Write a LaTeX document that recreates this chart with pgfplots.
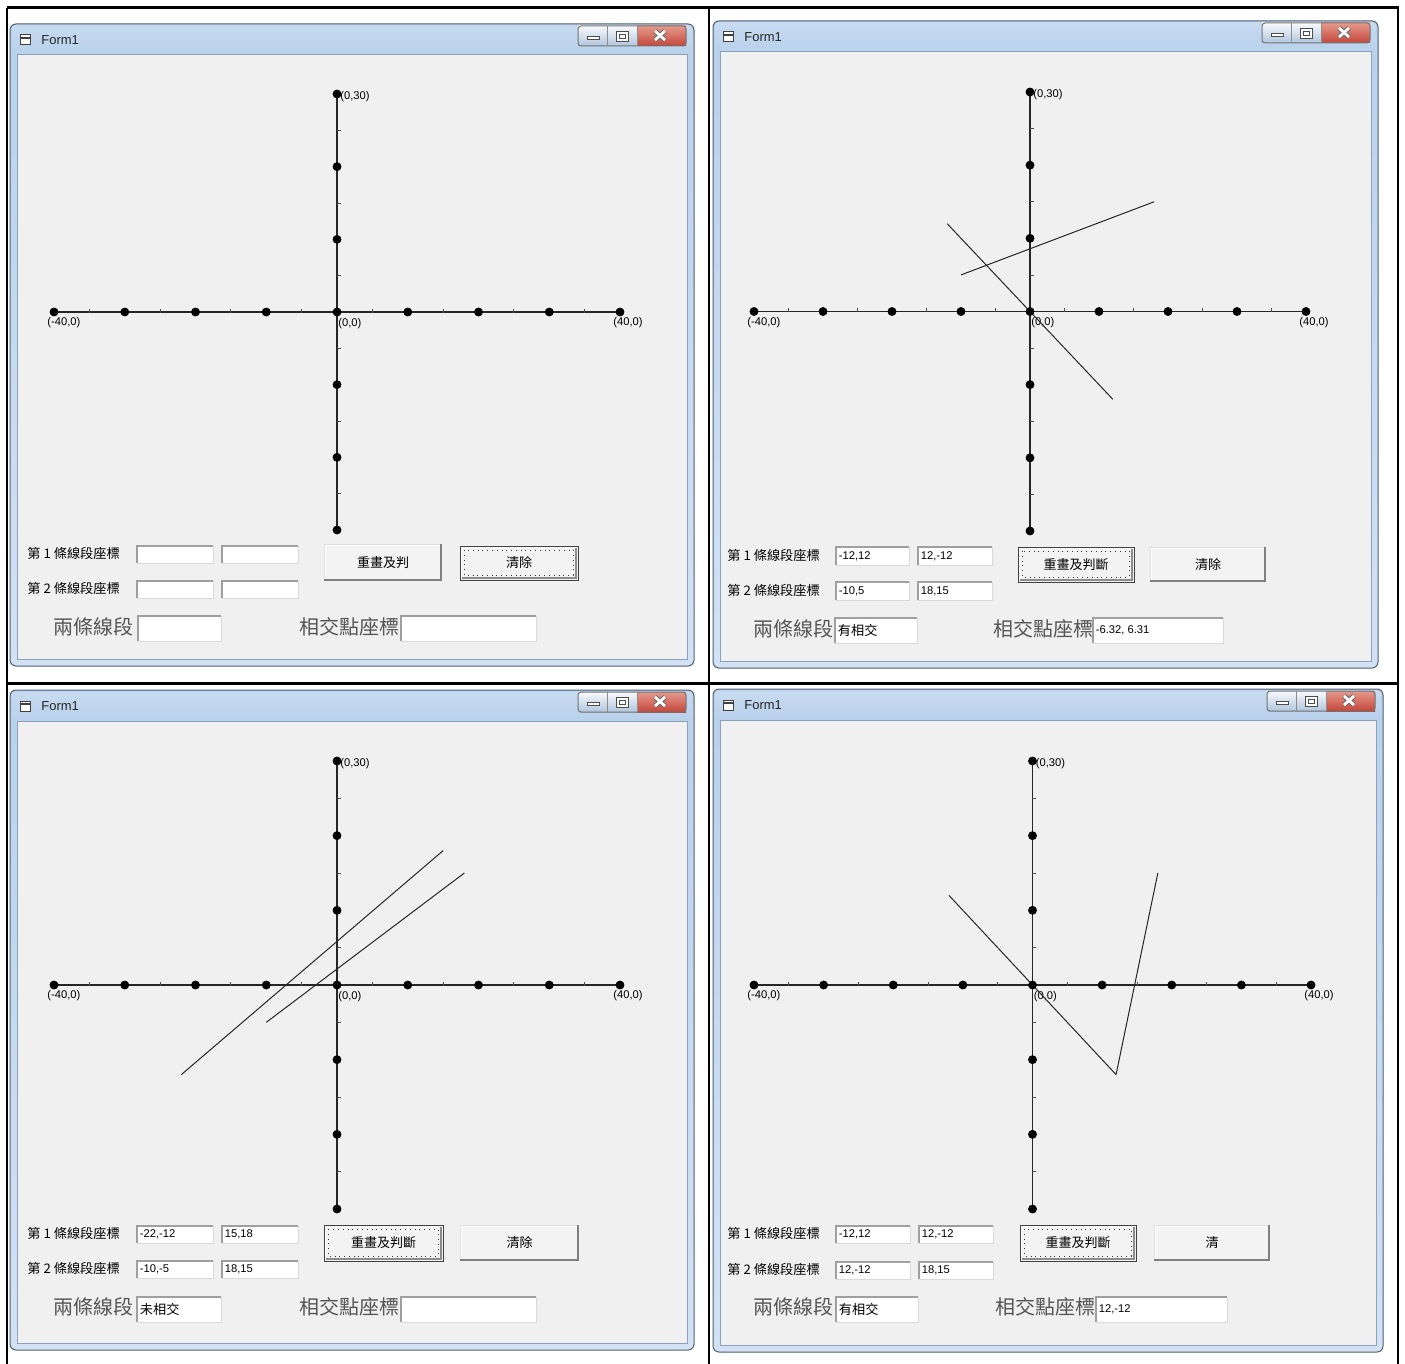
\documentclass[border=0pt]{standalone}
\usepackage{pgfplots}
\pgfplotsset{compat=1.18}
\usepackage{fontspec}
\setmainfont{Liberation Sans}
\newfontfamily\cjk{Noto Sans CJK TC}
\definecolor{client}{HTML}{F0F0F0}
\definecolor{winA}{HTML}{B9D1EC}
\definecolor{winB}{HTML}{D2E2F4}
\definecolor{winEdge}{HTML}{4F5F70}
\definecolor{clientEdge}{HTML}{8CA2BC}
\definecolor{closeA}{HTML}{E59A8C}
\definecolor{closeB}{HTML}{C4463A}
\definecolor{biglblc}{HTML}{555555}
\newcommand\sml{\fontsize{5.6bp}{6.5bp}\selectfont}
\newcommand\cjks{\cjk\fontsize{6.6bp}{7bp}\selectfont}
\newcommand\cjkbt{\cjk\fontsize{6.5bp}{7bp}\selectfont}
\newcommand\cjkb{\cjk\fontsize{10bp}{11bp}\selectfont}
% window: L T R B
\newcommand\win[4]{%
 \shade[rounded corners=3bp, top color=winA, bottom color=winB] (#1,#2) rectangle (#3,#4);
 \shade[top color=winA!80!white, bottom color=winA] ({#1+2},{#2+2}) rectangle ({#3-2},{#2+30});
 \draw[rounded corners=3bp, winEdge, line width=0.5bp] (#1,#2) rectangle (#3,#4);
 \fill[client] ({#1+7},{#2+31}) rectangle ({#3-7},{#4-7});
 \draw[clientEdge, line width=0.5bp] ({#1+7},{#2+31}) rectangle ({#3-7},{#4-7});
 \shade[top color=white!90!winA, bottom color=winA!85!gray] ({#3-116},{#2+2}) rectangle ({#3-57},{#2+22});
 \shade[top color=closeA, bottom color=closeB] ({#3-57},{#2+2}) rectangle ({#3-8},{#2+22});
 \draw[black!55, line width=0.5bp, rounded corners=1.5bp] ({#3-116},{#2+2}) rectangle ({#3-8},{#2+22});
 \draw[black!45, line width=0.5bp] ({#3-87},{#2+2}) -- ({#3-87},{#2+22});
 \draw[black!45, line width=0.5bp] ({#3-57},{#2+2}) -- ({#3-57},{#2+22});
 \filldraw[fill=white, draw=black!70, line width=0.4bp] ({#3-107},{#2+12}) rectangle ({#3-95},{#2+15});
 \filldraw[fill=white, draw=black!70, line width=0.4bp] ({#3-78},{#2+7}) rectangle ({#3-66},{#2+17});
 \draw[black!70, line width=0.4bp] ({#3-75},{#2+10}) rectangle ({#3-69},{#2+14});
 \draw[black!60, line width=2.4bp] ({#3-39},{#2+7}) -- ({#3-29},{#2+16}) ({#3-39},{#2+16}) -- ({#3-29},{#2+7});
 \draw[white, line width=1.4bp] ({#3-39},{#2+7}) -- ({#3-29},{#2+16}) ({#3-39},{#2+16}) -- ({#3-29},{#2+7});
 \filldraw[fill=white, draw=black!75, line width=0.5bp] ({#1+10},{#2+11}) rectangle ({#1+20},{#2+21});
 \draw[black!75, line width=0.6bp] ({#1+10},{#2+14}) -- ({#1+20},{#2+14});
 \node[anchor=west, inner sep=0, font=\fontsize{6.5bp}{7bp}\selectfont, text=black!85] at ({#1+31},{#2+16}) {Form1};
}
% textbox: x0 y0 x1 y1 text
\newcommand\tb[5]{%
 \fill[white] (#1,#2) rectangle (#3,#4);
 \draw[gray!75, line width=0.6bp] (#1,#4) -- (#1,#2) -- (#3,#2);
 \draw[gray!30, line width=0.5bp] (#3,#2) -- (#3,#4) -- (#1,#4);
 \node[anchor=west, inner sep=0, font=\sml] at ({#1+2.5},{(#2+#4)/2}) {#5};
}
% button: x0 y0 x1 y1 text focused(0/1)
\newcommand\btn[6]{%
 \fill[client!80!white] (#1,#2) rectangle (#3,#4);
 \ifnum#6=1
  \draw[black!75, line width=0.5bp] (#1,#2) rectangle (#3,#4);
  \draw[white, line width=0.6bp] ({#1+1.5},{#4-2}) -- ({#1+1.5},{#2+1.5}) -- ({#3-2},{#2+1.5});
  \draw[black!45, line width=1bp] ({#3-2},{#2+1.5}) -- ({#3-2},{#4-2}) -- ({#1+1.5},{#4-2});
  \draw[black!80, line width=0.4bp, dotted] ({#1+4},{#2+4}) rectangle ({#3-5},{#4-5});
 \else
  \draw[gray!25, line width=0.5bp] (#1,#4) -- (#1,#2) -- (#3,#2);
  \draw[white, line width=0.6bp] ({#1+1.5},{#4-2}) -- ({#1+1.5},{#2+1.5}) -- ({#3-2},{#2+1.5});
  \draw[black!50, line width=1bp] ({#3-1},{#2}) -- ({#3-1},{#4-1}) -- ({#1},{#4-1});
 \fi
 \node[inner sep=0, font=\cjkbt] at ({(#1+#3)/2},{(#2+#4)/2}) {#5};
}
\newcommand\lbl[3]{\node[anchor=west, inner sep=0, font=\cjks] at (#1,#2) {#3};}
\newcommand\biglbl[3]{\node[anchor=west, inner sep=0, font=\cjkb, text=biglblc] at (#1,#2) {#3};}
\pgfplotsset{frm/.style={hide axis, scale only axis, xmin=-40, xmax=40, ymin=-30, ymax=30, clip=false, anchor=south west}}
\newcommand\axbase{%
 \addplot[black!85, line width=0.8bp] coordinates {(-40,0) (40,0)};
 \addplot[black!85, line width=0.8bp] coordinates {(0,30) (0,-30)};
 \addplot[only marks, mark=*, mark size=2bp, black] coordinates {(-40,0) (-30,0) (-20,0) (-10,0) (0,0) (10,0) (20,0) (30,0) (40,0) (0,30) (0,20) (0,10) (0,-10) (0,-20) (0,-30)};
 \addplot[only marks, mark=|, mark size=1bp, black!70, mark options={yshift=0.6bp, line width=0.4bp}] coordinates {(-35,0) (-25,0) (-15,0) (-5,0) (5,0) (15,0) (25,0) (35,0)};
 \addplot[only marks, mark=-, mark size=1bp, black!70, mark options={xshift=0.9bp, line width=0.4bp}] coordinates {(0,25) (0,15) (0,5) (0,-5) (0,-15) (0,-25)};
 \node[anchor=west, inner sep=0, font=\sml, xshift=1.5bp, yshift=-1.5bp] at (axis cs:0,30) {(0,30)};
 \node[anchor=west, inner sep=0, font=\sml, xshift=-3.5bp, yshift=-5.5bp] at (axis cs:-40,0) {(-40,0)};
 \node[anchor=west, inner sep=0, font=\sml, xshift=0.5bp, yshift=-5.8bp] at (axis cs:0,0) {(0,0)};
 \node[anchor=west, inner sep=0, font=\sml, xshift=-3.5bp, yshift=-5.5bp] at (axis cs:40,0) {(40,0)};
}
\begin{document}
\begin{tikzpicture}
\begin{scope}[x=0.5bp, y=-0.5bp]
 \fill[white] (0,0) rectangle (1405,1364);
 \path[use as bounding box] (0,0) rectangle (1405,1364);
 % table borders
 \draw[black, line width=1.5bp] (7,8) -- (1399,8);
 \draw[black, line width=1.5bp] (7,683) -- (1399,683);
 \draw[black, line width=1bp] (7,8) -- (7,1364);
 \draw[black, line width=1bp] (709,8) -- (709,1364);
 \draw[black, line width=1bp] (1398,8) -- (1398,1364);
 % windows
 \win{10}{24}{694}{666}
 \win{713}{21}{1378}{668}
 \win{10}{690}{694}{1350}
 \win{713}{689}{1383}{1352}
 % panel 1 controls
 \lbl{27}{553}{第 1 條線段座標}
 \lbl{27}{588}{第 2 條線段座標}
 \tb{137}{546}{213}{563}{}
 \tb{222}{546}{298}{563}{}
 \tb{137}{581}{213}{598}{}
 \tb{222}{581}{298}{598}{}
 \btn{324}{544}{442}{581}{重畫及判}{0}
 \btn{460}{546}{578}{580}{清除}{1}
 \biglbl{53}{627}{兩條線段}
 \tb{138}{616}{221}{641}{}
 \biglbl{299}{627}{相交點座標}
 \tb{401}{616}{536}{641}{}
 % panel 2 controls
 \lbl{727}{555}{第 1 條線段座標}
 \lbl{727}{590}{第 2 條線段座標}
 \tb{836}{547}{909}{565}{-12,12}
 \tb{918}{547}{992}{565}{12,-12}
 \tb{836}{582}{909}{600}{-10,5}
 \tb{918}{582}{992}{600}{18,15}
 \btn{1018}{547}{1134}{582}{重畫及判斷}{1}
 \btn{1150}{547}{1266}{582}{清除}{0}
 \biglbl{753}{629}{兩條線段}
 \tb{835}{618}{917}{643}{{\cjks 有相交}}
 \biglbl{993}{629}{相交點座標}
 \tb{1093}{618}{1223}{643}{-6.32, 6.31}
 % panel 3 controls
 \lbl{27}{1233}{第 1 條線段座標}
 \lbl{27}{1268}{第 2 條線段座標}
 \tb{137}{1226}{213}{1243}{-22,-12}
 \tb{222}{1226}{298}{1243}{15,18}
 \tb{137}{1261}{213}{1278}{-10,-5}
 \tb{222}{1261}{298}{1278}{18,15}
 \btn{324}{1225}{443}{1261}{重畫及判斷}{1}
 \btn{460}{1225}{579}{1261}{清除}{0}
 \biglbl{53}{1307}{兩條線段}
 \tb{137}{1297}{221}{1322}{{\cjks 未相交}}
 \biglbl{299}{1307}{相交點座標}
 \tb{401}{1297}{536}{1322}{}
 % panel 4 controls
 \lbl{727}{1233}{第 1 條線段座標}
 \lbl{727}{1269}{第 2 條線段座標}
 \tb{836}{1226}{910}{1243}{-12,12}
 \tb{919}{1226}{993}{1243}{12,-12}
 \tb{836}{1262}{910}{1279}{12,-12}
 \tb{919}{1262}{993}{1279}{18,15}
 \btn{1020}{1225}{1136}{1261}{重畫及判斷}{1}
 \btn{1154}{1225}{1270}{1261}{清}{0}
 \biglbl{753}{1307}{兩條線段}
 \tb{836}{1297}{918}{1322}{{\cjks 有相交}}
 \biglbl{995}{1307}{相交點座標}
 \tb{1096}{1297}{1227}{1322}{12,-12}
 % axis anchors
 \coordinate (P1) at (54,530);
 \coordinate (P2) at (754,531);
 \coordinate (P3) at (54,1209);
 \coordinate (P4) at (754,1209);
\end{scope}
\begin{axis}[frm, at={(P1)}, width=283bp, height=218bp]
 \axbase
\end{axis}
\begin{axis}[frm, at={(P2)}, width=276bp, height=219.5bp]
 \axbase
 \addplot[black!85, line width=0.5bp] coordinates {(-12,12) (12,-12)};
 \addplot[black!85, line width=0.5bp] coordinates {(-10,5) (18,15)};
\end{axis}
\begin{axis}[frm, at={(P3)}, width=283bp, height=224bp]
 \axbase
 \addplot[black!85, line width=0.5bp] coordinates {(-22,-12) (15,18)};
 \addplot[black!85, line width=0.5bp] coordinates {(-10,-5) (18,15)};
\end{axis}
\begin{axis}[frm, at={(P4)}, width=278.5bp, height=224bp]
 \axbase
 \addplot[black!85, line width=0.5bp] coordinates {(-12,12) (12,-12)};
 \addplot[black!85, line width=0.5bp] coordinates {(12,-12) (18,15)};
\end{axis}
\end{tikzpicture}
\end{document}
